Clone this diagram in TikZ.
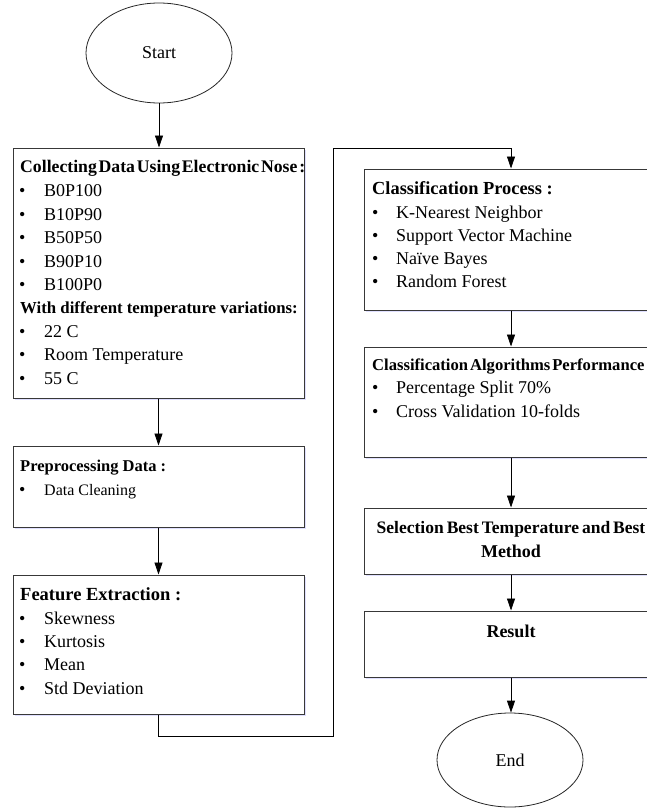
\documentclass[tikz,border=0pt]{standalone}
\usepackage{fontspec}
\setmainfont{Liberation Serif}
\usetikzlibrary{arrows.meta,shapes.geometric,shadows}
\tikzset{
  box/.style={rectangle, draw=black!78, line width=1pt, fill=white, inner sep=0pt,
    drop shadow={shadow xshift=1.5pt, shadow yshift=-1.5pt, fill=blue!18!white, opacity=0.7}},
  oval/.style={ellipse, draw=black!85, line width=0.8pt, fill=white, inner sep=0pt,
    font=\fontsize{18}{20}\selectfont},
  txt/.style={anchor=base west, inner sep=0pt, font=\fontsize{18}{20}\selectfont},
  small/.style={anchor=base west, inner sep=0pt, font=\fontsize{16}{18}\selectfont},
  ttl/.style={anchor=base west, inner sep=0pt, font=\fontsize{#1}{20}\selectfont\bfseries},
  ttl/.default=18,
  tight/.style={execute at begin node={\spaceskip=#1 plus 0.5pt\relax}},
  ctr/.style={anchor=base, inner sep=0pt, font=\fontsize{18}{20}\selectfont\bfseries},
  bul/.style={anchor=base west, inner sep=0pt, font=\fontsize{18}{20}\selectfont},
  arr/.style={-{Triangle[length=12pt,width=8pt]}, line width=0.8pt, draw=black},
}
\begin{document}
\begin{tikzpicture}[x=1pt,y=-1pt]
\useasboundingbox (0,0) rectangle (647,808);
% shapes
\node[oval, minimum width=146, minimum height=100] (start) at (159,53) {Start};
\node[box, minimum width=291, minimum height=250] (b1) at (158.5,273) {};
\node[box, minimum width=291, minimum height=81] (b2) at (158.5,486.5) {};
\node[box, minimum width=291, minimum height=139] (b3) at (158.5,644.5) {};
\node[box, minimum width=294, minimum height=141] (r1) at (511,239.5) {};
\node[box, minimum width=294, minimum height=110] (r2) at (511,402) {};
\node[box, minimum width=294, minimum height=66] (r3) at (511,541) {};
\node[box, minimum width=294, minimum height=66] (r4) at (511,644) {};
\node[oval, minimum width=146, minimum height=94] (end) at (510,760) {End};
% box 1 text
\node[ttl=17.7, tight=1.8pt] (t1) at (20,172) {Collecting Data Using Electronic Nose :};
\node[bul] (u11) at (19,196) {•}; \node[txt] (i11) at (44,196) {B0P100};
\node[bul] (u12) at (19,220) {•}; \node[txt] (i12) at (44,220) {B10P90};
\node[bul] (u13) at (19,243) {•}; \node[txt] (i13) at (44,243) {B50P50};
\node[bul] (u14) at (19,267) {•}; \node[txt] (i14) at (44,267) {B90P10};
\node[bul] (u15) at (19,290) {•}; \node[txt] (i15) at (44,290) {B100P0};
\node[ttl=16.8] (t1b) at (20,313) {With different temperature variations:};
\node[bul] (u16) at (19,337) {•}; \node[txt] (i16) at (44,337) {22 C};
\node[bul] (u17) at (19,360) {•}; \node[txt] (i17) at (44,360) {Room Temperature};
\node[bul] (u18) at (19,384) {•}; \node[txt] (i18) at (44,384) {55 C};
% box 2 text
\node[ttl=16.5] (t2) at (20,471) {Preprocessing Data :};
\node[bul] (u21) at (19,495) {•}; \node[small] (i21) at (44,495) {Data Cleaning};
% box 3 text
\node[ttl=18.5] (t3) at (20,600) {Feature Extraction :};
\node[bul] (u31) at (19,624) {•}; \node[txt] (i31) at (44,624) {Skewness};
\node[bul] (u32) at (19,647) {•}; \node[txt] (i32) at (44,647) {Kurtosis};
\node[bul] (u33) at (19,670) {•}; \node[txt] (i33) at (44,670) {Mean};
\node[bul] (u34) at (19,694) {•}; \node[txt] (i34) at (44,694) {Std Deviation};
% right box 1 text
\node[ttl=18.4] (tr1) at (372,194) {Classification Process :};
\node[bul] (v11) at (372,218) {•}; \node[txt] (j11) at (396,218) {K-Nearest Neighbor};
\node[bul] (v12) at (372,241) {•}; \node[txt] (j12) at (396,241) {Support Vector Machine};
\node[bul] (v13) at (372,264) {•}; \node[txt] (j13) at (396,264) {Naïve Bayes};
\node[bul] (v14) at (372,287) {•}; \node[txt] (j14) at (396,287) {Random Forest};
% right box 2 text
\node[ttl=16.6, tight=2pt] (tr2) at (372,370) {Classification Algorithms Performance};
\node[bul] (v21) at (372,393) {•}; \node[txt] (j21) at (396,393) {Percentage Split 70\%};
\node[bul] (v22) at (372,417) {•}; \node[txt] (j22) at (396,417) {Cross Validation 10-folds};
% right box 3 / 4 text
\node[ctr, font=\fontsize{17.5}{20}\selectfont\bfseries, tight=3pt] (tr3) at (511,533) {Selection Best Temperature and Best};
\node[ctr] (tr3b) at (511,557) {Method};
\node[ctr] (tr4) at (511,637) {Result};
% connectors
\coordinate (k1) at (333,736);
\coordinate (k2) at (333,148);
\draw[arr] (start.south) -- (start.south |- b1.north);
\draw[arr] (b1.south) -- (b2.north);
\draw[arr] (b2.south) -- (b3.north);
\draw[arr] (b3.south) |- (k1) -- (k2) -| (r1.north);
\draw[arr] (r1.south) -- (r2.north);
\draw[arr] (r2.south) -- (r3.north);
\draw[arr] (r3.south) -- (r4.north);
\draw[arr] (r4.south) -- (r4.south |- end.north);
\end{tikzpicture}
\end{document}
